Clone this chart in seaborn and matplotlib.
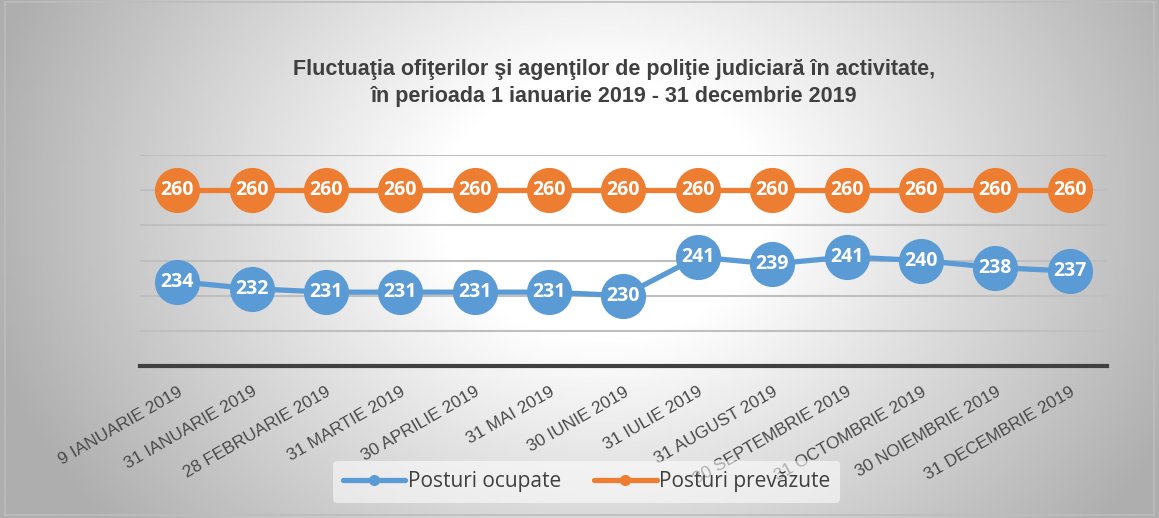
import numpy as np
import pandas as pd
import matplotlib
matplotlib.use('Agg')
import matplotlib.pyplot as plt
import seaborn as sns

# Data
dates = ['9 IANUARIE 2019', '31 IANUARIE 2019', '28 FEBRUARIE 2019', '31 MARTIE 2019',
         '30 APRILIE 2019', '31 MAI 2019', '30 IUNIE 2019', '31 IULIE 2019',
         '31 AUGUST 2019', '30 SEPTEMBRIE 2019', '31 OCTOMBRIE 2019',
         '30 NOIEMBRIE 2019', '31 DECEMBRIE 2019']
posturi_ocupate = [234, 232, 231, 231, 231, 231, 230, 241, 239, 241, 240, 238, 237]
posturi_prevazute = [260] * 13
series_names = ['Posturi ocupate', 'Posturi prevăzute']
series_colors = ['#5B9BD5', '#ED7D31']

title = ('Fluctuaţia ofiţerilor şi agenţilor de poliţie judiciară în activitate,\n'
         'în perioada 1 ianuarie 2019 - 31 decembrie 2019')

df = pd.DataFrame({
    'Data': dates * 2,
    'Valoare': posturi_ocupate + posturi_prevazute,
    'Serie': [series_names[0]] * len(dates) + [series_names[1]] * len(dates),
})

sns.set_theme(style='white')
plt.rcParams['font.family'] = ['Liberation Sans', 'DejaVu Sans']

fig = plt.figure(figsize=(11.59, 5.18), dpi=100)

# Radial grey gradient background (light centre, grey sides)
bg = fig.add_axes([0, 0, 1, 1], zorder=-10)
gx, gy = np.meshgrid(np.linspace(0, 1, 400), np.linspace(0, 1, 200))
r = np.sqrt(((gx - 0.52) / 0.55) ** 2 + ((gy - 0.6) / 1.0) ** 2)
shade = 1 - 0.32 * np.clip((r - 0.25) / 0.75, 0, 1)
bg.imshow(shade, cmap='gray', vmin=0, vmax=1, extent=[0, 1, 0, 1],
          origin='lower', aspect='auto')
bg.set_axis_off()
bg.add_patch(plt.Rectangle((0.004, 0.006), 0.992, 0.99, fill=False,
                           edgecolor='#bdbdbd', linewidth=1.2,
                           transform=bg.transAxes))

ax = fig.add_axes([0.1208, 0.2934, 0.8342, 0.4074])
ax.set_facecolor('none')

sns.lineplot(data=df, x='Data', y='Valoare', hue='Serie', hue_order=series_names,
             palette=series_colors, sort=False, marker='o', markersize=32.5,
             markeredgewidth=0, linewidth=3.8, ax=ax, zorder=3)

for vals in (posturi_ocupate, posturi_prevazute):
    for i, v in enumerate(vals):
        ax.text(i, v, str(v), ha='center', va='center', color='white',
                fontsize=14, fontweight='bold', family=['Open Sans', 'DejaVu Sans'],
                zorder=5)

ax.set_xlim(-0.5, len(dates) - 0.5)
ax.set_ylim(210, 270)
ax.set_yticks(np.arange(220, 271, 10))
ax.yaxis.grid(True, color='#bfbfbf', linewidth=1.5)
ax.set_axisbelow(True)
ax.tick_params(axis='y', left=False, labelleft=False)
ax.tick_params(axis='x', bottom=False, pad=7)
for s in ['top', 'left', 'right']:
    ax.spines[s].set_visible(False)
ax.spines['bottom'].set_color('#404040')
ax.spines['bottom'].set_linewidth(3)
ax.set_xlabel('')
ax.set_ylabel('')

for lab in ax.get_xticklabels():
    lab.set_rotation(30)
    lab.set_ha('right')
    lab.set_rotation_mode('anchor')
    lab.set_fontsize(12.5)
    lab.set_color('#4a4a4a')

fig.text(0.53, 0.84, title, ha='center', va='center', fontsize=15.5,
         fontweight='bold', color='#404040', linespacing=1.4)

handles, labels = ax.get_legend_handles_labels()
for h in handles:
    h.set_markersize(8)
leg = ax.legend(handles, labels, loc='center', bbox_to_anchor=(0.506, 0.07),
                bbox_transform=fig.transFigure, ncol=2, frameon=True,
                fontsize=15, handlelength=3.0, handletextpad=0.1,
                columnspacing=1.6, borderpad=0.5)
leg.get_frame().set_facecolor('white')
leg.get_frame().set_alpha(0.55)
leg.get_frame().set_edgecolor('none')
for t in leg.get_texts():
    t.set_color('#404040')
    t.set_fontfamily(['Open Sans', 'DejaVu Sans'])
leg.set_zorder(10)

fig.savefig('out.png', dpi=100)
